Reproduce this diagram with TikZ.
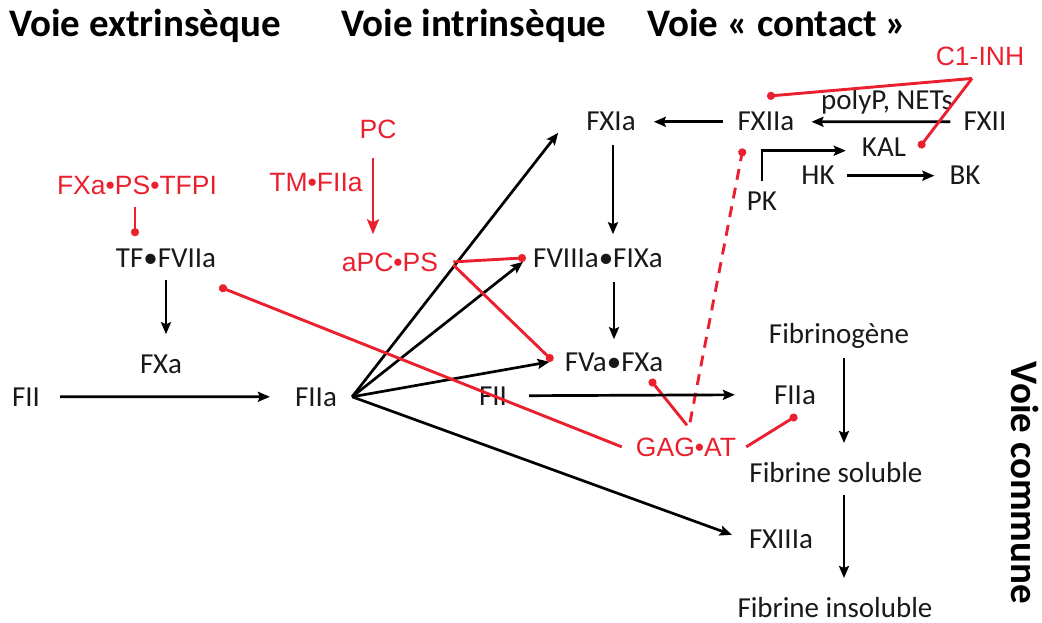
\documentclass[tikz,border=0pt]{standalone}
\usepackage{fontspec}
\setmainfont{Carlito}
\newfontfamily\arialf{Liberation Sans}
\usetikzlibrary{arrows.meta,calc}
\definecolor{myred}{RGB}{234,32,46}
\begin{document}
\begin{tikzpicture}[x=1pt,y=-1pt,
  bk/.style={font=\fontsize{29}{31}\selectfont, inner sep=0pt, anchor=base, text=black!90},
  rd/.style={font=\arialf\fontsize{26.5}{28}\selectfont, inner sep=0pt, anchor=base, text=myred},
  hd/.style={font=\bfseries\fontsize{39}{41}\selectfont, inner sep=0pt, anchor=base},
  arr/.style={draw=black, line width=2.7pt, -{Stealth[length=12pt,width=10pt,inset=2pt]}},
  inh/.style={draw=myred, line width=2.9pt, -{Circle[length=8pt]}},
  rarr/.style={draw=myred, line width=2.9pt, -{Stealth[length=15pt,width=12pt,inset=3pt]}},
  dsh/.style={draw=myred, line width=2.9pt, dash pattern=on 11pt off 8pt, -{Circle[length=8pt]}}]
\useasboundingbox (0,0) rectangle (1042,623);
% headings
\node[hd] (h1) at (145,37) {Voie extrinsèque};
\node[hd] (h2) at (474,37) {Voie intrinsèque};
\node[hd] (h3) at (777,37) {Voie « contact »};
\node[font=\bfseries\fontsize{39}{41}\selectfont, inner sep=0pt, rotate=-90] (h4) at (1025,483) {Voie commune};
% contact pathway
\node[rd] (c1) at (980,66) {C1-INH};
\node[bk] (fxia) at (611,131) {FXIa};
\node[bk] (fxiia) at (766,131) {FXIIa};
\node[bk] (fxii) at (985,131) {FXII};
\node[bk] (poly) at (887,110) {polyP, NETs};
\node[bk] (kal) at (884,157) {KAL};
\node[bk] (hk) at (818,185) {HK};
\node[bk] (bk) at (965,185) {BK};
\node[bk] (pk) at (762,211) {PK};
% intrinsic / extrinsic
\node[rd] (pc) at (378,139) {PC};
\node[rd] (tm) at (316,191) {TM•FIIa};
\node[rd] (tfpi) at (137,195) {FXa•PS•TFPI};
\node[bk] (tf) at (166,267) {TF•FVIIa};
\node[rd] (apc) at (390,271) {aPC•PS};
\node[bk] (f8) at (598,267) {FVIIIa•FIXa};
\node[bk] (fxa) at (161,373) {FXa};
\node[bk] (fii1) at (26,406) {FII};
\node[bk] (fiia1) at (316,406) {FIIa};
\node[bk] (fva) at (614,371) {FVa•FXa};
\node[bk] (fii2) at (493,405) {FII};
\node[bk] (fiia2) at (795,404) {FIIa};
\node[rd] (gag) at (686,456) {GAG•AT};
% common pathway
\node[bk] (fbg) at (839,343) {Fibrinogène};
\node[bk] (fbs) at (836,482) {Fibrine soluble};
\node[bk] (f13) at (781,548) {FXIIIa};
\node[bk] (fbi) at (835,617) {Fibrine insoluble};
% contact connectors
\draw[arr] ($(fxiia.west)+(-15,0)$) -- ($(fxia.east)+(18,0)$);
\draw[arr] ($(fxii.west)+(-13,0)$) -- ($(fxiia.east)+(17,0)$);
\coordinate (c1j) at ($(c1.south)+(-8,12)$);
\draw[inh] (c1j) -- ($(fxiia.north)+(1,-16)$);
\draw[inh] (c1j) -- ($(kal.east)+(13,0)$);
\draw[arr] ($(pk.north)+(0,-11)$) |- ($(kal.west)+(-16,3)$);
\draw[arr] ($(hk.east)+(12,0)$) -- ($(bk.west)+(-15,0)$);
% intrinsic cascade
\draw[arr] ($(fxia.south)+(2,14)$) -- ($(fxia.south |- f8.north)+(2,-14)$);
\draw[arr] ($(fva.north |- f8.south)+(0,15)$) -- ($(fva.north)+(0,-13)$);
% FIIa fan
\coordinate (fan) at ($(fiia1.east)+(15,0)$);
\draw[arr] (fan) -- ($(fxia.west)+(-28,11)$);
\draw[arr] (fan) -- ($(f8.west)+(-10,4)$);
\draw[arr] (fan) -- ($(fva.west)+(-15,0)$);
\draw[arr] (fan) -- ($(f13.west)+(-17,-4)$);
\draw[arr] ($(fii1.east)+(20,0)$) -- ($(fiia1.west)+(-25,0)$);
% extrinsic
\draw[arr] ($(tf.south)+(0,13)$) -- ($(tf.south |- fxa.north)+(0,-20)$);
\draw[inh] ($(tfpi.south)+(-2,12)$) -- ($(tfpi.south |- tf.north)+(-2,-12)$);
% protein C
\draw[rarr] ($(pc.south)+(-5,19)$) -- ($(pc.south |- apc.north)+(-5,-18)$);
\draw[inh] ($(apc.east)+(15,0)$) -- ($(f8.west)+(-7,0)$);
\draw[inh] ($(apc.east)+(15,3)$) -- ($(fva.west)+(-12,-1)$);
% GAG-AT
\draw[inh] ($(gag.west)+(-14,0)$) -- ($(tf.east)+(3,29)$);
\draw[inh] ($(gag.north)+(1,-12)$) -- ($(fva.south)+(36,8)$);
\draw[dsh] ($(gag.north)+(4,-15)$) -- ($(fxiia.south)+(-23,17)$);
\draw[inh] ($(gag.east)+(10,0)$) -- ($(fiia2.south)+(2,11)$);
\draw[arr] ($(fii2.east)+(22,0)$) -- ($(fiia2.west)+(-39,0)$);
% common
\draw[arr] ($(fbg.base)+(5,15)$) -- ($(fbs.base)+(8,-39)$);
\draw[arr] ($(fbs.base)+(8,13)$) -- ($(fbi.base)+(9,-39)$);
\end{tikzpicture}
\end{document}
